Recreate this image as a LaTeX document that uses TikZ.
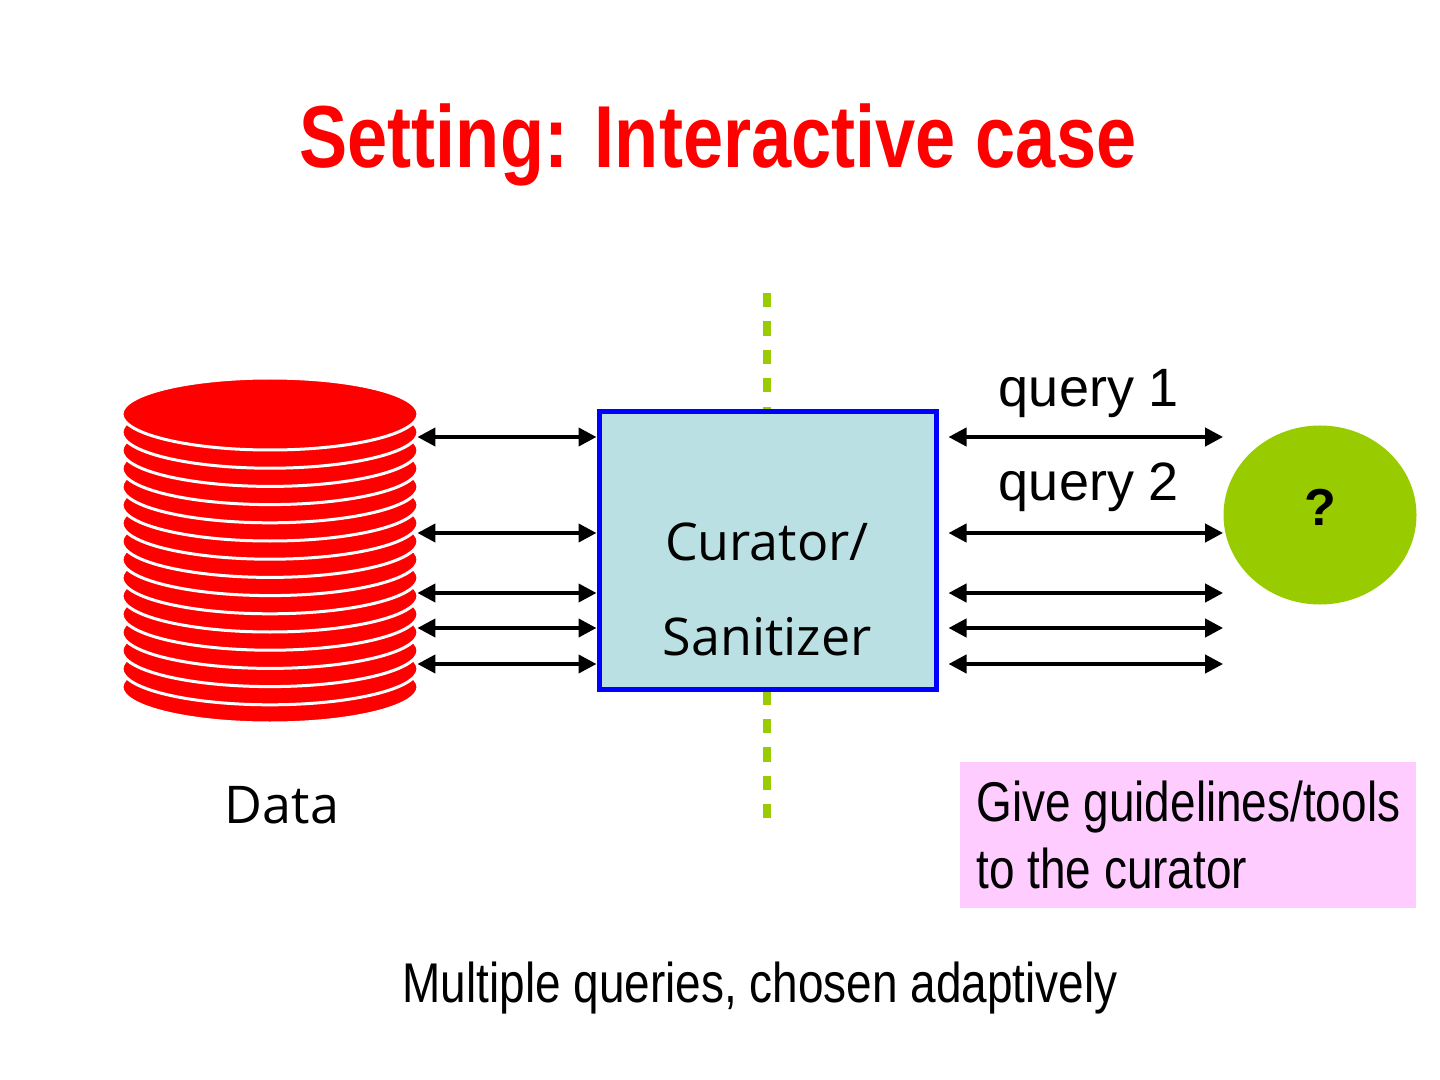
\documentclass[tikz,border=0pt]{standalone}
\usepackage{fontspec}
\setmainfont{Liberation Sans}
\newfontfamily\narrowfont{Liberation Sans}[FakeStretch=0.82]
\newfontfamily\titlefont{Liberation Sans Bold}[FakeStretch=0.82]
\newfontfamily\curfont{Open Sans}
\usetikzlibrary{arrows.meta,shapes.geometric}

\definecolor{dbred}{RGB}{255,0,0}
\definecolor{curfill}{RGB}{187,224,227}
\definecolor{curblue}{RGB}{0,0,255}
\definecolor{limegreen}{RGB}{153,204,0}
\definecolor{guidepink}{RGB}{255,204,255}

\tikzset{
  disk/.style={fill=dbred,draw=white,line width=1.5pt},
  link/.style={line width=2pt,{Triangle[length=9pt,width=9pt]}-{Triangle[length=9pt,width=9pt]}},
  divider/.style={draw=limegreen,line width=4.25pt,dash pattern=on 7.1pt off 7.1pt},
  curbox/.style={draw=curblue,fill=curfill,line width=2.5pt,inner sep=0pt,
    minimum width=168.5pt,minimum height=138.5pt},
  curtext/.style={font=\curfont\fontsize{26}{47.5}\selectfont,align=center,inner sep=0pt},
  usercircle/.style={ellipse,fill=limegreen,inner sep=0pt,minimum width=96.5pt,minimum height=89.5pt,
    font=\bfseries\fontsize{26}{30}\selectfont,text depth=8pt},
  qtext/.style={font=\fontsize{27}{30}\selectfont,inner sep=0pt},
  narrowtext/.style={font=\narrowfont\fontsize{28}{33.5}\selectfont,inner sep=0pt},
  guidebox/.style={fill=guidepink,minimum width=228pt,minimum height=73pt,inner sep=0pt,
    align=left,font=\narrowfont\fontsize{28}{33.5}\selectfont}
}

\begin{document}
\begin{tikzpicture}[x=0.5pt,y=-0.5pt]
\useasboundingbox (0,0) rectangle (1440,1080);

% title
\node[font=\titlefont\fontsize{44}{50}\selectfont,text=dbred,anchor=base,inner sep=0pt] (title) at (718,168) {Setting: Interactive case};

% database stack
\foreach \k in {15,14,...,0}
  \draw[disk] (270,{414+18.2*\k}) ellipse [x radius=148, y radius=36];
\node[inner sep=0pt,minimum width=148pt,minimum height=173.5pt] (db) at (269,551.5) {};
\node[font=\curfont\fontsize{26}{30}\selectfont,anchor=base,inner sep=0pt] (datalabel) at (282,823) {Data};

% divider behind the curator
\coordinate (divtop) at (767,293);
\coordinate (divbot) at (767,819);
\draw[divider] (divtop) -- (divbot);

\node[curbox] (cur) at (767.5,550.5) {};
\node[curtext,anchor=base] (curlabel) at (767,655) {Curator/\\Sanitizer};

\node[usercircle] (user) at (1320,515) {?};

\node[qtext,anchor=base] (q1) at (1089,407) {query 1};
\node[qtext,anchor=base] (q2) at (1089,500) {query 2};

% queries and answers
\foreach \y in {437,533,593,628,664} {
  \draw[link] (db.east |- 0,\y) -- (cur.west |- 0,\y);
  \draw[link,shorten <=5pt] (cur.east |- 0,\y) -- (user.west |- 0,\y);
}

\node[guidebox,anchor=north west] (guide) at (960,762) {Give guidelines/tools\\to the curator};

\node[narrowtext,anchor=base] (note) at (760,1002) {Multiple queries, chosen adaptively};
\end{tikzpicture}
\end{document}
